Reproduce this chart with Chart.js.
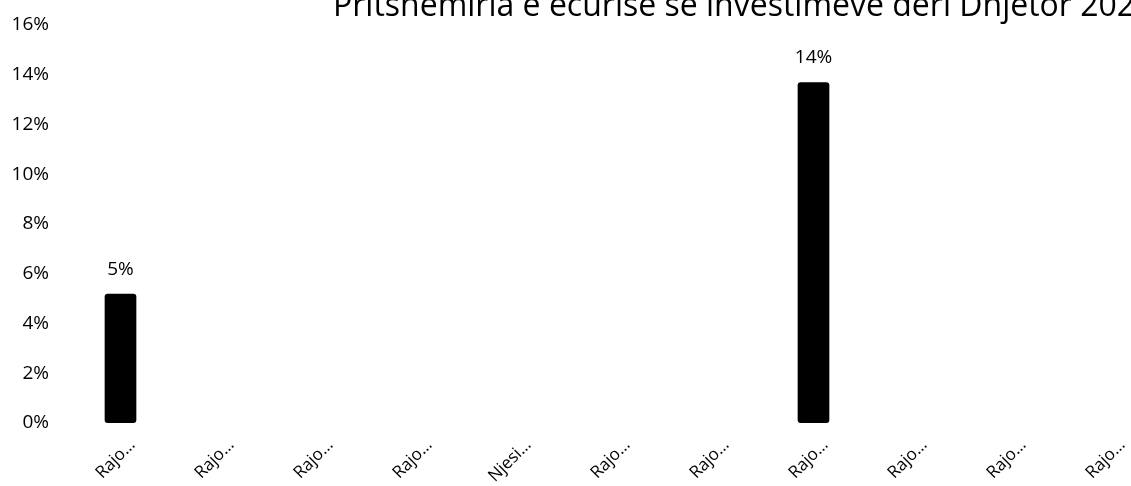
<!DOCTYPE html>
<html>
<head>
<meta charset="utf-8">
<script src="https://cdn.jsdelivr.net/npm/chart.js@4"></script>
<style>
  html, body { margin: 0; padding: 0; background: #fff; overflow: hidden; }
  #wrap { width: 1160px; height: 486px; position: relative; }
</style>
</head>
<body>
<div id="wrap"><canvas id="chart"></canvas></div>
<script>
const titleText = 'Pritshemiria e ecurisë së investimeve deri Dhjetor 2020';
const categories = ['Rajo…', 'Rajo…', 'Rajo…', 'Rajo…', 'Njesi…', 'Rajo…', 'Rajo…', 'Rajo…', 'Rajo…', 'Rajo…', 'Rajo…'];
const values = [0.052, null, null, null, null, null, null, 0.137, null, null, null];
const valueLabels = ['5%', '', '', '', '', '', '', '14%', '', '', ''];
const yTicks = [0, 0.02, 0.04, 0.06, 0.08, 0.1, 0.12, 0.14, 0.16];

const FONT = '"Open Sans", Lato, sans-serif';

// draws the value above each bar and the (cropped) title
const labelsPlugin = {
    id: 'barLabels',
    afterDatasetsDraw(chart) {
        const ctx = chart.ctx;
        const meta = chart.getDatasetMeta(0);
        ctx.save();
        ctx.fillStyle = '#000';
        ctx.font = '19px ' + FONT;
        ctx.textAlign = 'center';
        ctx.textBaseline = 'alphabetic';
        meta.data.forEach((bar, i) => {
            if (values[i] == null) return;
            ctx.fillText(valueLabels[i], bar.x, bar.y - 19);
        });
        ctx.font = '32px ' + FONT;
        ctx.textAlign = 'left';
        ctx.fillText(titleText, 333, 16);
        ctx.restore();
    }
};

new Chart(document.getElementById('chart'), {
    type: 'bar',
    data: {
        labels: categories,
        datasets: [
            {
                data: values,
                backgroundColor: '#000',
                borderRadius: 3,
                borderSkipped: false,
                barPercentage: 0.32,
                categoryPercentage: 1,
            },
        ],
    },
    options: {
        responsive: true,
        maintainAspectRatio: false,
        animation: false,
        layout: { padding: { top: 25, left: 0, right: 0, bottom: 0 } },
        plugins: {
            legend: { display: false },
            tooltip: { enabled: false },
        },
        scales: {
            x: {
                grid: { display: false, drawTicks: false },
                border: { display: false },
                ticks: {
                    autoSkip: false,
                    minRotation: 45,
                    maxRotation: 45,
                    padding: 12,
                    labelOffset: 12,
                    color: '#000',
                    font: { family: FONT, size: 17 },
                },
                afterFit(scale) { scale.height = 63; },
            },
            y: {
                min: 0,
                max: 0.16,
                grid: { display: false, drawTicks: false },
                border: { display: false },
                afterBuildTicks(scale) { scale.ticks = yTicks.map(v => ({ value: v })); },
                ticks: {
                    padding: 22,
                    color: '#000',
                    font: { family: FONT, size: 19 },
                    callback: v => Math.round(v * 100) + '%',
                },
                afterFit(scale) {
                    scale.width = 71;
                    scale.paddingTop = 0;
                    scale.paddingBottom = 0;
                },
            },
        },
    },
    plugins: [labelsPlugin],
});
</script>
</body>
</html>
